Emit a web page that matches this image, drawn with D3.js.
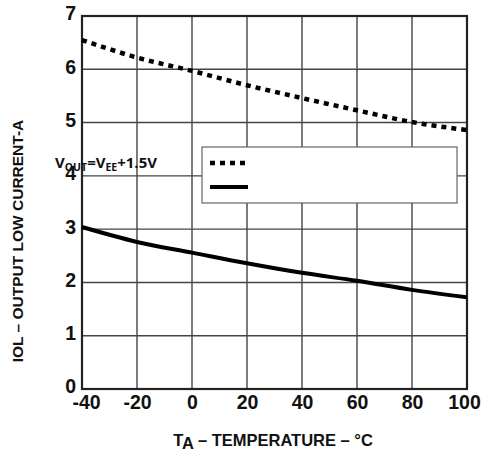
<!DOCTYPE html>
<html><head><meta charset="utf-8">
<script src="https://cdn.jsdelivr.net/npm/d3@7"></script>
<style>body{margin:0;background:#fff}svg{display:block}</style>
</head><body>
<svg id="c" width="485" height="454"></svg>
<script>
const temps = [-40, -20, 0, 20, 40, 60, 80, 100];
const dashedSeries = [6.55, 6.22, 5.97, 5.70, 5.46, 5.23, 5.01, 4.86];
const solidSeries = [3.04, 2.76, 2.56, 2.36, 2.18, 2.03, 1.86, 1.72];
const xTicks = [-40, -20, 0, 20, 40, 60, 80, 100];
const yTicks = [0, 1, 2, 3, 4, 5, 6, 7];

const svg = d3.select('#c');
const L = 82, R = 467, T = 16, B = 389;
const x = d3.scaleLinear().domain([-40, 100]).range([L, R]);
const y = d3.scaleLinear().domain([0, 7]).range([B, T]);

// grid
const g = svg.append('g');
g.selectAll('.vx').data(xTicks.slice(1, -1)).join('line')
  .attr('x1', d => x(d)).attr('x2', d => x(d)).attr('y1', T).attr('y2', B)
  .attr('stroke', '#444').attr('stroke-width', 1.4);
g.selectAll('.hy').data(yTicks.slice(1, -1)).join('line')
  .attr('y1', d => y(d)).attr('y2', d => y(d)).attr('x1', L).attr('x2', R)
  .attr('stroke', '#444').attr('stroke-width', 1.4);

const fmt = d => String(d);
const xAxis = svg.append('g').attr('transform', `translate(0,${B})`)
  .call(d3.axisBottom(x).tickValues(xTicks).tickFormat(fmt).tickSize(0).tickPadding(8));
const yAxis = svg.append('g').attr('transform', `translate(${L},0)`)
  .call(d3.axisLeft(y).tickValues(yTicks).tickFormat(fmt).tickSize(0).tickPadding(6));
[xAxis, yAxis].forEach(a => {
  a.select('.domain').remove();
  a.selectAll('text').attr('font-family', 'Liberation Sans, Arial, sans-serif')
    .attr('font-weight', 'bold').attr('font-size', 19.5).attr('fill', '#111');
});
xAxis.selectAll('text').attr('dy', '0.64em')
  .attr('dx', d => d === -40 ? 4 : (d === 100 ? -3 : 0));
yAxis.selectAll('text').attr('dy', '0.2em');

// frame
svg.append('rect').attr('x', L).attr('y', T).attr('width', R - L).attr('height', B - T)
  .attr('fill', 'none').attr('stroke', '#222').attr('stroke-width', 2.2);

// lines
const line = d3.line().x((d, i) => x(temps[i])).y(d => y(d)).curve(d3.curveMonotoneX);
svg.append('path').attr('d', line(dashedSeries)).attr('fill', 'none')
  .attr('stroke', '#000').attr('stroke-width', 4.5).attr('stroke-dasharray', '5,5');
svg.append('path').attr('d', line(solidSeries)).attr('fill', 'none')
  .attr('stroke', '#000').attr('stroke-width', 4);

// legend
svg.append('rect').attr('x', 202).attr('y', 147).attr('width', 255).attr('height', 56)
  .attr('fill', '#fff').attr('stroke', '#666').attr('stroke-width', 1.2);
svg.append('line').attr('x1', 210).attr('x2', 248).attr('y1', 163).attr('y2', 163)
  .attr('stroke', '#000').attr('stroke-width', 4.5).attr('stroke-dasharray', '5,5');
svg.append('line').attr('x1', 210).attr('x2', 248).attr('y1', 187).attr('y2', 187)
  .attr('stroke', '#000').attr('stroke-width', 4);

// annotation
const ann = svg.append('text').attr('x', 55).attr('y', 168)
  .attr('font-family', 'Open Sans, sans-serif').attr('font-weight', 'bold')
  .attr('font-size', 15).attr('fill', '#111');
ann.append('tspan').text('V');
ann.append('tspan').attr('font-size', 10.5).attr('dy', 3).text('OUT');
ann.append('tspan').attr('dy', -3).text('=V');
ann.append('tspan').attr('font-size', 10.5).attr('dy', 3).text('EE');
ann.append('tspan').attr('dy', -3).text('+1.5V');

// x title
const xt = svg.append('text').attr('x', 273).attr('y', 446).attr('text-anchor', 'middle')
  .attr('font-family', 'Liberation Sans, Arial, sans-serif').attr('font-weight', 'bold')
  .attr('font-size', 16.5).attr('fill', '#111');
xt.append('tspan').text('T');
xt.append('tspan').attr('dy', 3).text('A');
xt.append('tspan').attr('dy', -3).text(' – TEMPERATURE – °C');

// y title
svg.append('text').attr('transform', 'translate(23,241) rotate(-90)').attr('text-anchor', 'middle')
  .attr('font-family', 'Liberation Sans, Arial, sans-serif').attr('font-weight', 'bold')
  .attr('font-size', 15.5).attr('fill', '#111').text('IOL – OUTPUT LOW CURRENT-A');
</script>
</body></html>
